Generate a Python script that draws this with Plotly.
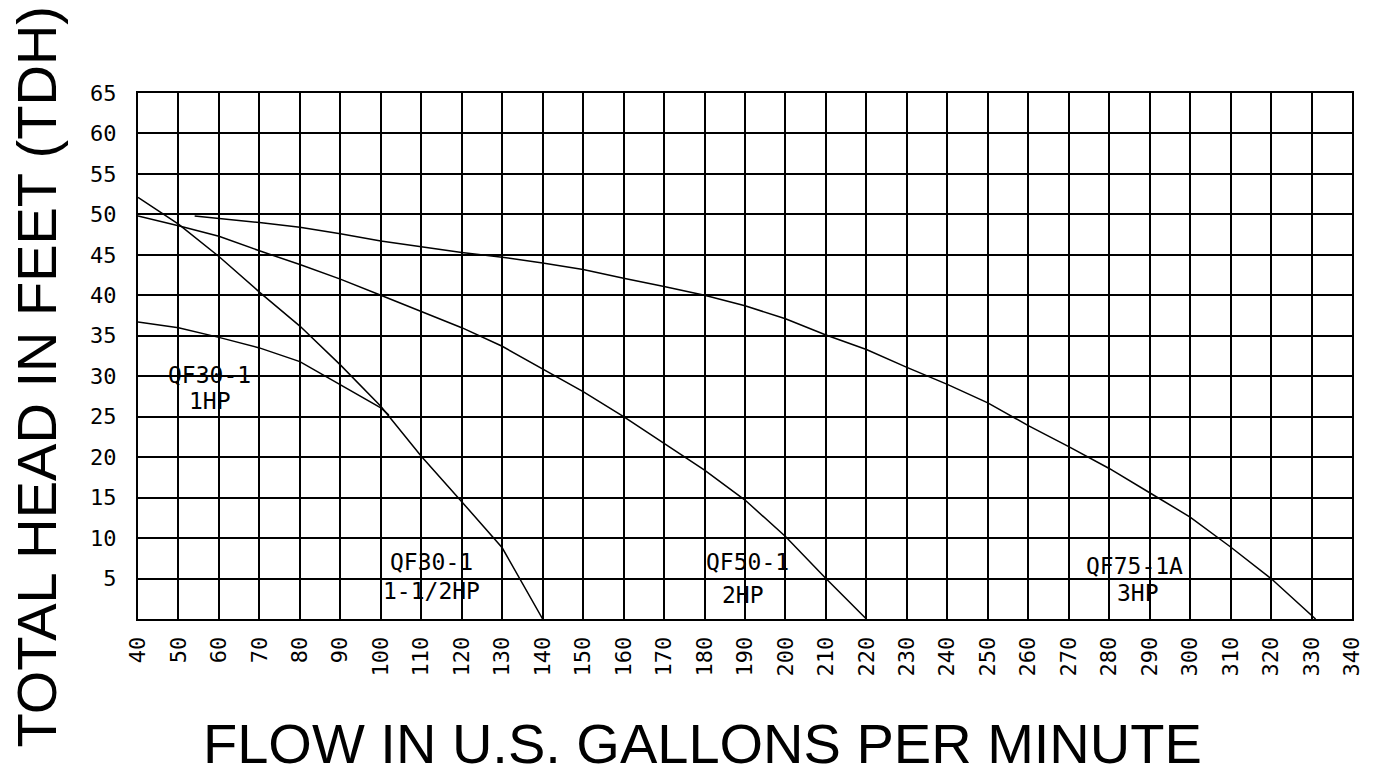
import plotly.graph_objects as go

# ---- data ----
flow_1hp = [40, 50, 60, 70, 80, 90, 100, 102]
head_1hp = [36.7, 36.0, 34.8, 33.5, 31.8, 29.0, 26.1, 25.2]

flow_15hp = [40, 50, 60, 70, 80, 90, 100, 110, 120, 130, 140]
head_15hp = [52.1, 48.8, 44.8, 40.4, 36.2, 31.4, 26.3, 20.1, 14.5, 8.8, 0]

flow_2hp = [40, 50, 60, 70, 80, 90, 100, 110, 120, 130, 140, 150, 160, 170, 180, 190, 200, 210, 220]
head_2hp = [49.8, 48.6, 47.3, 45.5, 43.8, 42.0, 40.0, 38.0, 36.0, 33.7, 30.9, 28.1, 25.0, 21.7, 18.4, 14.7, 10.2, 5.0, 0]

flow_3hp = [54, 60, 70, 80, 90, 100, 110, 120, 130, 140, 150, 160, 170, 180, 190, 200, 210, 220,
            230, 240, 250, 260, 270, 280, 290, 300, 310, 320, 331]
head_3hp = [49.8, 49.5, 49.0, 48.4, 47.6, 46.7, 46.0, 45.3, 44.7, 44.0, 43.2, 42.1, 41.1, 40.0, 38.7, 37.1, 35.1, 33.3,
            31.1, 29.0, 26.7, 23.9, 21.3, 18.6, 15.6, 12.6, 8.9, 5.0, 0]

x_ticks = list(range(40, 341, 10))
y_ticks = list(range(5, 66, 5))

curve_labels = [
    ("QF30-1", "1HP"),
    ("QF30-1", "1-1/2HP"),
    ("QF50-1", "2HP"),
    ("QF75-1A", "3HP"),
]

x_title = "FLOW IN U.S. GALLONS PER MINUTE"
y_title = "TOTAL HEAD IN FEET (TDH)"

# ---- figure ----
fig = go.Figure()
line_style = dict(color="black", width=1.5)
for fx, hy in [(flow_1hp, head_1hp), (flow_15hp, head_15hp), (flow_2hp, head_2hp), (flow_3hp, head_3hp)]:
    fig.add_trace(go.Scatter(x=fx, y=hy, mode="lines", line=line_style,
                             showlegend=False, hoverinfo="skip"))

cad_font = dict(family="DejaVu Sans Mono", size=23, color="black")
label_pos = [((57.7, 30.2), (57.7, 27.0)),
             ((112.5, 7.0), (112.5, 3.5)),
             ((190.5, 7.0), (189.5, 3.0)),
             ((286.2, 6.6), (287.2, 3.2))]
for (l1, l2), (p1, p2) in zip(curve_labels, label_pos):
    fig.add_annotation(x=p1[0], y=p1[1], xref="x", yref="y", text=l1, showarrow=False,
                       font=cad_font, bgcolor="rgba(0,0,0,0)")
    fig.add_annotation(x=p2[0], y=p2[1], xref="x", yref="y", text=l2, showarrow=False,
                       font=cad_font, bgcolor="rgba(0,0,0,0)")

title_font = dict(family="Liberation Sans", size=56, color="black")
fig.add_annotation(x=0.4647, y=-0.236, xref="paper", yref="paper", text=x_title,
                   showarrow=False, font=title_font, xanchor="center", yanchor="middle")
fig.add_annotation(x=-0.0836, y=0.46, xref="paper", yref="paper", text=y_title,
                   showarrow=False, font=title_font, textangle=-90,
                   xanchor="center", yanchor="middle")

tick_font = dict(family="DejaVu Sans Mono", size=22, color="black")
fig.update_xaxes(range=[40, 340], tickvals=x_ticks, ticktext=[str(v) for v in x_ticks],
                 tickangle=-90, tickfont=tick_font,
                 showgrid=True, gridcolor="black", gridwidth=2,
                 showline=True, linecolor="black", linewidth=2, mirror=True,
                 zeroline=False, ticks="", ticklabelstandoff=7)
fig.update_yaxes(range=[0, 65], tickvals=y_ticks, ticktext=[str(v) for v in y_ticks],
                 tickfont=tick_font,
                 showgrid=True, gridcolor="black", gridwidth=2,
                 showline=True, linecolor="black", linewidth=2, mirror=True,
                 zeroline=False, ticks="", ticklabelstandoff=15)

fig.update_layout(width=1369, height=759, autosize=False,
                  margin=dict(l=129.5, r=25, t=85, b=148),
                  paper_bgcolor="white", plot_bgcolor="white")

fig.write_html("out.html")
